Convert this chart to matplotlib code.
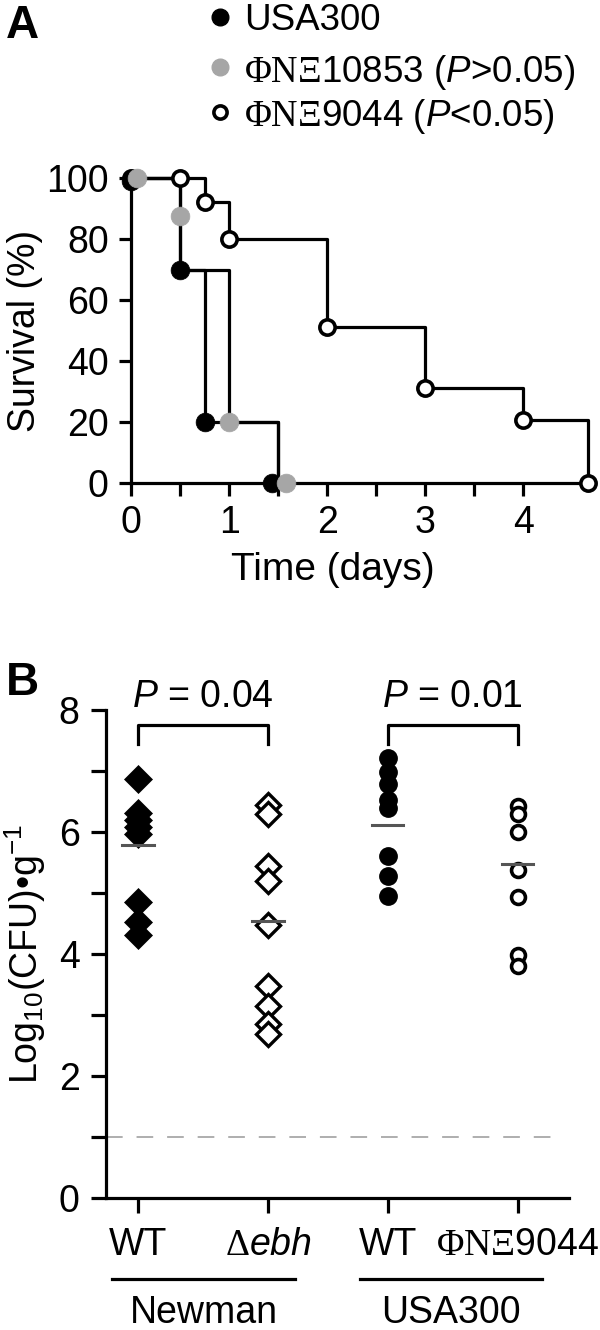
import matplotlib
matplotlib.use('Agg')
import matplotlib.pyplot as plt
from matplotlib.lines import Line2D

plt.rcParams['font.family'] = ['Liberation Sans', 'DejaVu Sans']
plt.rcParams['mathtext.fontset'] = 'custom'
plt.rcParams['mathtext.rm'] = 'Liberation Serif'
plt.rcParams['mathtext.it'] = 'Liberation Sans:italic'
plt.rcParams['mathtext.sf'] = 'Liberation Sans'
plt.rcParams['mathtext.bf'] = 'Liberation Sans:bold'
plt.rcParams['lines.scale_dashes'] = False

# ---- panel A: survival curves (time in days, survival in %)
usa_t = [0, 0.5, 0.75, 1.5]
usa_s = [100, 70, 20, 0]
n10853_t = [0, 0.5, 1.0, 1.5]
n10853_s = [100, 70, 20, 0]
n9044_t = [0, 0.75, 1.0, 2.0, 3.0, 4.0, 4.66]
n9044_s = [100, 92, 80, 51, 31, 20.5, 0]

# symbols as drawn (overlapping points are nudged sideways)
usa_mt = [0, 0.5, 0.75, 1.44]
usa_ms = [99, 70, 20, 0]
n10853_mt = [0.06, 0.5, 1.0, 1.58]
n10853_ms = [100, 87.5, 20, 0]
n9044_mt = [0, 0.5, 0.75, 1.0, 2.0, 3.0, 4.0, 4.66]
n9044_ms = [100, 100, 92, 80, 51, 31, 20.5, 0]

legend_labels = ['USA300',
                 r'$\Phi\mathrm{N}\Xi$10853 ($P$>0.05)',
                 r'$\Phi\mathrm{N}\Xi$9044 ($P$<0.05)']

# ---- panel B: log10 CFU per gram
group_x = [1, 2, 2.92, 3.92]
group_labels = ['WT', r'$\Delta\mathit{ebh}$', 'WT', r'$\Phi\mathrm{N}\Xi$9044']
newman_wt = [6.87, 6.31, 6.19, 6.08, 5.96, 4.86, 4.52, 4.31]
newman_ebh = [6.45, 6.29, 5.44, 5.19, 4.47, 3.47, 3.15, 2.86, 2.69]
usa300_wt = [7.21, 6.99, 6.78, 6.53, 6.39, 5.60, 5.28, 4.95]
usa300_phi = [6.43, 6.29, 6.00, 5.38, 4.93, 3.99, 3.80]
group_means = [5.78, 4.54, 6.11, 5.48]
limit_detect = 1.0
p_texts = [r'$P$ = 0.04', r'$P$ = 0.01']

GRAY = '#a6a6a6'
FS = 27
LW = 2.3

fig = plt.figure(figsize=(6, 13.3), dpi=100)

# ================= A =================
axA = fig.add_axes([131/600, 1-483/1330, 463/600, 305/1330])
axA.set_xlim(0, 4.72)
axA.set_ylim(0, 100)
for t, s in [(usa_t, usa_s), (n10853_t, n10853_s), (n9044_t, n9044_s)]:
    axA.step(t, s, where='post', color='k', lw=LW, clip_on=False, zorder=2)
axA.plot(n9044_mt, n9044_ms, 'o', ms=11, mfc='white', mec='k', mew=2.6,
         clip_on=False, zorder=3)
axA.plot(usa_mt, usa_ms, 'o', ms=13.5, mfc='k', mec='k', mew=0.5,
         clip_on=False, zorder=4)
axA.plot(n10853_mt, n10853_ms, 'o', ms=13.5, mfc=GRAY, mec=GRAY, mew=0.5,
         clip_on=False, zorder=5)

axA.set_xticks([0, 1, 2, 3, 4])
axA.set_xticks([0.5, 1.5, 2.5, 3.5], minor=True)
axA.set_yticks([0, 20, 40, 60, 80, 100])
axA.tick_params(axis='both', which='both', direction='out', length=9, width=LW)
axA.tick_params(axis='x', labelsize=FS, pad=7)
axA.tick_params(axis='y', labelsize=FS, pad=7)
for sp in ['top', 'right']:
    axA.spines[sp].set_visible(False)
for sp in ['left', 'bottom']:
    axA.spines[sp].set_linewidth(LW)
axA.set_ylabel('Survival (%)', fontsize=FS)
axA.yaxis.set_label_coords(-0.19, 0.5)
axA.set_xlabel('Time (days)', fontsize=28)
axA.xaxis.set_label_coords(0.436, -0.225)

# legend, drawn row by row
leg_rows = [17, 67, 112]
leg_styles = [dict(mfc='k', mec='k', ms=12),
              dict(mfc=GRAY, mec=GRAY, ms=12),
              dict(mfc='white', mec='k', mew=2.6, ms=9.5)]
for yy, lab, st in zip(leg_rows, legend_labels, leg_styles):
    fig.add_artist(Line2D([220/600], [1-yy/1330], ls='none', marker='o',
                          transform=fig.transFigure, **st))
    fig.text(244/600, 1-yy/1330, lab, fontsize=26.5, va='center_baseline')

fig.text(6/600, 1-26/1330, 'A', fontsize=33, fontweight='bold', va='center')

# ================= B =================
axB = fig.add_axes([106/600, 1-1198/1330, 463/600, 488/1330])
axB.set_xlim(0.754, 4.315)
axB.set_ylim(0, 8)

axB.plot([group_x[0]]*len(newman_wt), newman_wt, 'D', ms=14, mfc='k', mec='k',
         mew=0.5, clip_on=False, zorder=3)
axB.plot([group_x[1]]*len(newman_ebh), newman_ebh, 'D', ms=12.5, mfc='white',
         mec='k', mew=2.4, clip_on=False, zorder=3)
axB.plot([group_x[2]]*len(usa300_wt), usa300_wt, 'o', ms=12.5, mfc='k', mec='k',
         clip_on=False, zorder=3)
axB.plot([group_x[3]]*len(usa300_phi), usa300_phi, 'o', ms=10, mfc='white',
         mec='k', mew=2.6, clip_on=False, zorder=3)
for x, m in zip(group_x, group_means):
    axB.plot([x-0.12, x+0.12], [m, m], color='#555555', lw=2.2, zorder=4)

axB.plot([0.754, 4.26], [limit_detect, limit_detect], color='#999999', lw=1.1,
         dashes=(12, 10), zorder=1)

# significance brackets
for (a, b), txt in zip([(group_x[0], group_x[1]), (group_x[2], group_x[3])], p_texts):
    axB.plot([a, a, b, b], [7.44, 7.75, 7.75, 7.44], color='k', lw=LW,
             clip_on=False)
    axB.text((a+b)/2, 8.05, txt, fontsize=FS, ha='center', va='baseline')

axB.set_xticks(group_x, group_labels)
axB.set_yticks([0, 2, 4, 6, 8])
axB.set_yticks([1, 3, 5, 7], minor=True)
axB.tick_params(axis='both', which='both', direction='out', length=11, width=LW)
axB.tick_params(axis='x', labelsize=FS, pad=10)
axB.tick_params(axis='y', labelsize=FS, pad=8)
for sp in ['top', 'right']:
    axB.spines[sp].set_visible(False)
for sp in ['left', 'bottom']:
    axB.spines[sp].set_linewidth(LW)
axB.set_ylabel(r'Log$_{\mathsf{10}}$(CFU)•g$^{\mathsf{-1}}$', fontsize=FS)
axB.yaxis.set_label_coords(-0.125, 0.5)

# strain group underlines and names
tr = axB.get_xaxis_transform()
for (x0, x1), name in zip([(0.80, 2.21), (2.708, 4.108)], ['Newman', 'USA300']):
    axB.plot([x0, x1], [-0.166, -0.166], color='k', lw=LW, transform=tr,
             clip_on=False)
    axB.text((x0+x1)/2, -0.236, name, fontsize=FS, ha='center', va='center',
             transform=tr)

fig.text(6/600, 1-683/1330, 'B', fontsize=33, fontweight='bold', va='center')

fig.savefig('out.png', dpi=100)
